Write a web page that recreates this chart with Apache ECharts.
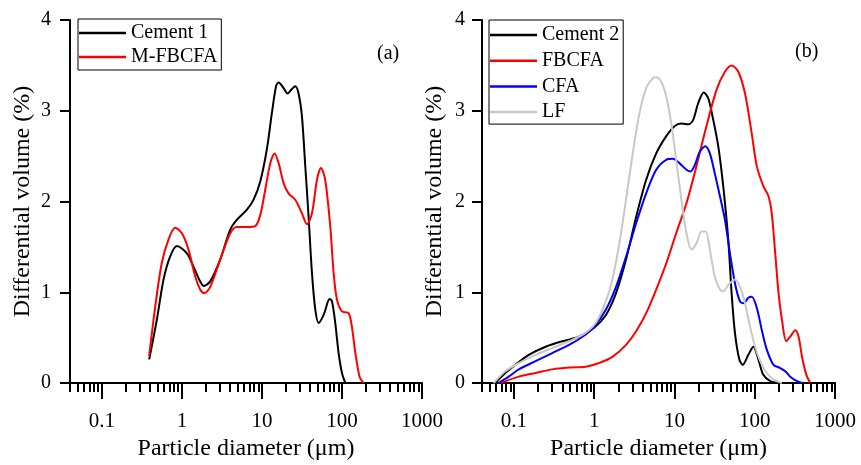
<!DOCTYPE html>
<html><head><meta charset="utf-8">
<script src="https://cdn.jsdelivr.net/npm/echarts@6/dist/echarts.min.js"></script>
<style>html,body{margin:0;padding:0;background:#fff}#c{width:861px;height:465px}</style>
</head><body><div id="c"></div>
<script>
// ---- tick definitions ----
const xTickValues = [0.1, 1, 10, 100, 1000];
const xTickLabels = ['0.1', '1', '10', '100', '1000'];
const xMinD = 0.04, xMaxD = 1000;
const yTicks = [0, 1, 2, 3, 4];

// ---- panel (a) ----
const c1D = [0.39,0.487,0.59,0.71,0.866,1.15,1.40,1.69,1.87,2.26,3.01,4.02,4.87,6.49,7.87,9.53,11.5,13.3,15.1,16.2,18.3,20.9,23.7,26.1,28.7,31.6,34.8,38.3,42.2,46.4,51.1,59,70.2,75,82.5,90.8,100,110];
const c1V = [0.26,0.70,1.14,1.39,1.51,1.43,1.28,1.12,1.07,1.12,1.36,1.69,1.80,1.91,2.02,2.22,2.57,2.97,3.28,3.31,3.26,3.19,3.24,3.27,3.19,2.94,2.39,1.83,1.21,0.81,0.66,0.75,0.925,0.90,0.66,0.33,0.11,0.0];
const mfD = [0.39,0.464,0.56,0.68,0.825,1.0,1.21,1.47,1.69,1.90,2.26,3.01,4.02,4.87,6.49,8.25,9.53,11.0,12.7,14.4,16.2,18.7,21.5,26.1,31.6,36.5,42.2,48.7,54.6,61.7,71.5,78.7,86.6,100,121,133,147,166,186];
const mfV = [0.30,0.84,1.32,1.58,1.71,1.65,1.47,1.17,1.03,0.99,1.06,1.36,1.65,1.72,1.72,1.73,1.85,2.13,2.42,2.53,2.42,2.20,2.09,2.02,1.87,1.75,1.87,2.24,2.37,2.24,1.72,1.21,0.92,0.79,0.77,0.62,0.33,0.07,0];

// ---- panel (b) ----
const c2D = [0.0586,0.078,0.104,0.153,0.248,0.40,0.65,1.0,1.40,1.87,2.49,3.33,4.44,5.92,7.90,10,12.2,14.8,17.1,19.7,23.2,26.3,30.4,35.1,40.5,46.8,51.5,56.7,64.3,70.8,83.2,96.2,111,128,156,198];
const c2V = [0,0.11,0.20,0.31,0.40,0.46,0.51,0.61,0.75,0.99,1.36,1.83,2.24,2.53,2.72,2.83,2.86,2.85,2.90,3.08,3.20,3.14,2.90,2.61,2.17,1.58,0.99,0.55,0.26,0.20,0.31,0.40,0.26,0.09,0.02,0];
const fbD = [0.068,0.115,0.186,0.30,0.486,0.787,1.155,1.70,2.49,3.33,4.44,5.92,7.90,10.5,14.1,18.8,25.0,33.4,42.5,51.5,62.4,75.7,91.7,106,128,148,163,180,198,218,247,277,320,352,388,440,493];
const fbV = [0,0.07,0.11,0.15,0.17,0.18,0.22,0.29,0.42,0.57,0.77,1.03,1.32,1.65,1.98,2.39,2.83,3.23,3.43,3.50,3.43,3.19,2.75,2.39,2.17,2.06,1.87,1.43,0.99,0.70,0.46,0.51,0.58,0.51,0.29,0.09,0];
const cfD = [0.0645,0.086,0.115,0.186,0.30,0.486,0.714,1.0,1.40,1.87,2.49,3.33,4.44,5.92,7.90,9.58,11.6,14.1,15.8,17.9,20.7,24.3,27.6,31.8,36.8,42.5,49.1,56.7,65.5,73.5,83.2,91.7,106,122,141,171,208,240,277,336,388];
const cfV = [0,0.07,0.15,0.24,0.33,0.42,0.51,0.62,0.81,1.06,1.39,1.76,2.09,2.35,2.46,2.47,2.42,2.35,2.33,2.40,2.55,2.61,2.53,2.31,2.06,1.80,1.43,1.10,0.90,0.88,0.94,0.95,0.83,0.59,0.37,0.20,0.165,0.13,0.07,0.02,0];
const lfD = [0.056,0.078,0.115,0.186,0.30,0.486,0.714,1.0,1.27,1.62,2.06,2.49,3.02,3.66,4.44,5.38,5.92,6.84,7.90,9.12,10.5,12.2,14.1,16.3,18.8,21.7,24.5,27.6,31.8,36.8,40.5,46.8,56.7,65.5,75.7,87.4,101,117,141,171,218];
const lfV = [0,0.13,0.22,0.31,0.385,0.46,0.53,0.64,0.81,1.08,1.54,2.02,2.53,2.97,3.25,3.36,3.37,3.32,3.16,2.86,2.46,2.02,1.65,1.47,1.54,1.67,1.67,1.47,1.17,1.03,1.01,1.08,1.14,1.06,0.88,0.62,0.40,0.24,0.11,0.04,0];

const FONT = 'Liberation Serif';
const LMIN = Math.log10(xMinD), LMAX = Math.log10(xMaxD);
const majorVals = xTickValues.map(v => Math.log10(v));
const minorVals = [];
for (let e = -2; e <= 2; e++) {
  for (let k = 2; k <= 9; k++) {
    const d = Number((k * Math.pow(10, e)).toPrecision(6));
    if (d >= xMinD && d <= xMaxD) minorVals.push(Math.log10(d));
  }
}

function xAxesFor(g) {
  return [
    {
      type: 'value', gridIndex: g, position: 'bottom', min: LMIN, max: LMAX,
      axisLine: { show: true, onZero: false, lineStyle: { color: '#000', width: 2 } },
      axisTick: { show: true, customValues: majorVals, length: 16, lineStyle: { color: '#000', width: 2 } },
      axisLabel: {
        show: true, customValues: majorVals, margin: 28, fontSize: 21, fontFamily: FONT, color: '#000',
        formatter: v => { const i = majorVals.findIndex(t => Math.abs(t - v) < 1e-6); return i >= 0 ? xTickLabels[i] : ''; }
      },
      splitLine: { show: false },
      name: 'Particle diameter (μm)', nameLocation: 'middle', nameGap: 52,
      nameTextStyle: { fontSize: 24, fontFamily: FONT, color: '#000' }
    },
    {
      type: 'value', gridIndex: g, position: 'bottom', min: LMIN, max: LMAX,
      axisLine: { show: false, onZero: false },
      axisTick: { show: true, customValues: minorVals, length: 9, lineStyle: { color: '#000', width: 2 } },
      axisLabel: { show: false },
      splitLine: { show: false }
    }
  ];
}
function yAxisFor(g, margin) {
  return {
    type: 'value', gridIndex: g, position: 'left', min: yTicks[0], max: yTicks[yTicks.length - 1], interval: 1,
    axisLine: { show: true, onZero: false, lineStyle: { color: '#000', width: 2 } },
    axisTick: { show: true, inside: false, length: 10, lineStyle: { color: '#000', width: 2 } },
    axisLabel: { margin: margin, fontSize: 20, fontFamily: FONT, color: '#000' },
    splitLine: { show: false },
    name: 'Differential volume (%)', nameLocation: 'middle', nameGap: 35,
    nameTextStyle: { fontSize: 24, fontFamily: FONT, color: '#000' }
  };
}
function line(name, D, V, color, xi, yi) {
  return {
    type: 'line', name: name, xAxisIndex: xi, yAxisIndex: yi,
    data: D.map((d, i) => [Math.log10(d), V[i]]),
    symbol: 'none', showSymbol: false, smooth: 0.3,
    lineStyle: { color: color, width: 2 }, itemStyle: { color: color },
    emphasis: { disabled: true }
  };
}
const legendCommon = {
  orient: 'vertical', itemWidth: 47, itemHeight: 2.5, icon: 'rect',
  borderColor: '#000', borderWidth: 1, backgroundColor: '#fff',
  textStyle: { fontSize: 20, fontFamily: FONT, color: '#000', lineHeight: 22 }
};

const chart = echarts.init(document.getElementById('c'), null, { renderer: 'canvas' });
chart.setOption({
  animation: false,
  backgroundColor: '#fff',
  grid: [
    { left: 70, top: 20, width: 352, height: 363, outerBoundsMode: 'none' },
    { left: 482, top: 20, width: 353, height: 363, outerBoundsMode: 'none' }
  ],
  xAxis: [...xAxesFor(0), ...xAxesFor(1)],
  yAxis: [yAxisFor(0, 19), yAxisFor(1, 17)],
  legend: [
    Object.assign({}, legendCommon, { data: ['Cement 1', 'M-FBCFA'], left: 78, top: 19, itemGap: 2, padding: [3, 4, 2, 1] }),
    Object.assign({}, legendCommon, { data: ['Cement 2', 'FBCFA', 'CFA', 'LF'], left: 489, top: 20, itemGap: 3.7, padding: [4, 4, 1, 1] })
  ],
  title: [
    { text: '(a)', left: 377, top: 44, padding: 0, textStyle: { fontSize: 20, fontWeight: 'normal', fontFamily: FONT, color: '#000' } },
    { text: '(b)', left: 795, top: 42, padding: 0, textStyle: { fontSize: 20, fontWeight: 'normal', fontFamily: FONT, color: '#000' } }
  ],
  series: [
    line('Cement 1', c1D, c1V, '#000000', 0, 0),
    line('M-FBCFA', mfD, mfV, '#ff0000', 0, 0),
    line('Cement 2', c2D, c2V, '#000000', 2, 1),
    line('FBCFA', fbD, fbV, '#ff0000', 2, 1),
    line('CFA', cfD, cfV, '#0000ff', 2, 1),
    line('LF', lfD, lfV, '#c8c8c8', 2, 1)
  ]
});
</script>
</body></html>
